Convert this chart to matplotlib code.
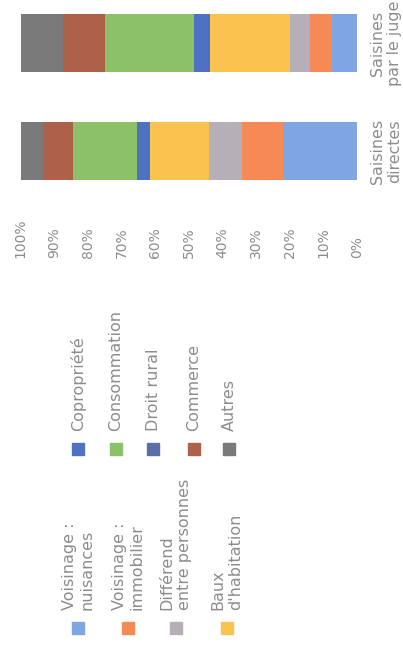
import matplotlib.pyplot as plt
from matplotlib.patches import Rectangle

# taille de l'image en pixels
W, H = 403, 645

# données
saisines = ['Saisines\ndirectes', 'Saisines\npar le juge']
motifs = ['Voisinage :\nnuisances', 'Voisinage :\nimmobilier', 'Différend\nentre personnes',
          "Baux\nd'habitation", 'Copropriété', 'Consommation', 'Droit rural', 'Commerce', 'Autres']
directes = [21.9, 12.4, 9.6, 17.6, 4.0, 19.0, 0.0, 8.8, 6.7]
par_juge = [7.5, 6.5, 6.0, 23.8, 4.7, 26.3, 0.0, 12.7, 12.5]
graduations = [0, 10, 20, 30, 40, 50, 60, 70, 80, 90, 100]

couleurs = ['#7fa6e2', '#f68a56', '#b5b0b8', '#fac24f', '#4d72c2',
            '#8cc16a', '#5a6fa6', '#ad614a', '#7a7a7a']
gris = '#8c8c8c'


def fig_xy(x, y):
    # pixels (origine en haut à gauche) -> coordonnées figure
    return x / W, 1 - y / H


fig = plt.figure(figsize=(W / 100, H / 100), dpi=100)

# zone des barres (graphique tourné de 90°)
x0, x1, yb = 20.7, 357.0, 200.0
ax = fig.add_axes([x0 / W, 1 - yb / H, (x1 - x0) / W, yb / H])

series = [directes, par_juge]
cumul = [0.0, 0.0]
for i, motif in enumerate(motifs):
    vals = [s[i] for s in series]
    ax.barh([0, 1], vals, left=cumul, height=0.546, color=couleurs[i], label=motif)
    cumul = [c + v for c, v in zip(cumul, vals)]

ax.set_xlim(100, 0)
ax.set_ylim(-0.4537, 1.398)
for sp in ax.spines.values():
    sp.set_visible(False)

# axe des pourcentages
ax.set_xticks(graduations, labels=[f'{g}%' for g in graduations])
ax.tick_params(axis='x', length=0, pad=(258 - yb) * 0.72, labelsize=10,
               labelcolor=gris, labelrotation=90)
plt.setp(ax.get_xticklabels(), va='bottom', ha='center')

# catégories
ax.set_yticks([0, 1], labels=saisines)
ax.yaxis.tick_right()
ax.tick_params(axis='y', length=0, pad=13 * 0.72, labelsize=11.4,
               labelcolor=gris, labelrotation=90)
plt.setp(ax.get_yticklabels(), va='center', ha='left', multialignment='center')

# légende dessinée à la main (tournée)
pos_legende = [(78, 628), (128, 628), (176, 628), (227, 628),
               (78, 449), (116, 449), (153, 449), (194, 449), (229, 449)]
taille = 12
for (mx, my), motif, c in zip(pos_legende, motifs, couleurs):
    fx, fy = fig_xy(mx - taille / 2, my + taille / 2)
    fig.patches.append(Rectangle((fx, fy), taille / W, taille / H,
                                 transform=fig.transFigure, color=c))
    tx, ty = fig_xy(mx, my - taille / 2 - 12)
    fig.text(tx, ty, motif, rotation=90, ha='center', va='bottom',
             multialignment='left', fontsize=11.5, color=gris)

fig.savefig('out.png', dpi=100, facecolor='white')
